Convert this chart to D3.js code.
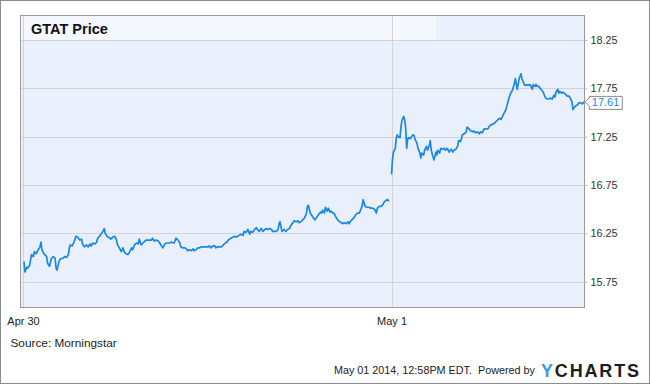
<!DOCTYPE html>
<html>
<head>
<meta charset="utf-8">
<script src="https://cdn.jsdelivr.net/npm/d3@7"></script>
<style>
  body { margin: 0; background: #fff; }
  svg { display: block; font-family: 'Liberation Sans', Arial, sans-serif; }
</style>
</head>
<body>
<svg id="chart" width="650" height="384"></svg>
<script>
const title = 'GTAT Price'
const source = 'Source: Morningstar'
const stamp = 'May 01 2014, 12:58PM EDT.  Powered by'

// minutes since the open, price
const apr30 = [
  [1, 15.96], [2, 15.85], [4, 15.90], [5, 15.89], [7, 15.92], [9, 16.03], [11, 16.01], [12, 16.06],
  [14, 16.04], [16, 16.08], [18, 16.11], [19, 16.16], [20, 16.08], [22, 16.04], [25, 16.01], [26, 15.94],
  [28, 15.91], [30, 15.99], [32, 16.01], [34, 15.99], [35, 15.89], [36, 15.87], [38, 15.96], [40, 15.99],
  [42, 15.99], [44, 16.01], [46, 16.00], [48, 16.03], [49, 16.10], [50, 16.13], [52, 16.12], [54, 16.16],
  [56, 16.22], [58, 16.21], [60, 16.18], [62, 16.19], [63, 16.14], [65, 16.11], [67, 16.13], [69, 16.11],
  [71, 16.14], [72, 16.12], [74, 16.15], [76, 16.14], [78, 16.16], [79, 16.20], [81, 16.22], [83, 16.25],
  [85, 16.28], [86, 16.30], [87, 16.25], [89, 16.22], [92, 16.20], [93, 16.19], [95, 16.21], [97, 16.22],
  [99, 16.18], [100, 16.13], [102, 16.10], [104, 16.06], [106, 16.10], [107, 16.06], [109, 16.04], [111, 16.03],
  [113, 16.06], [115, 16.10], [116, 16.08], [118, 16.13], [120, 16.15], [122, 16.14], [123, 16.19], [125, 16.13],
  [127, 16.15], [129, 16.17], [130, 16.18], [132, 16.18], [134, 16.18], [136, 16.18], [137, 16.20], [139, 16.17],
  [141, 16.18], [143, 16.17], [144, 16.16], [146, 16.13], [148, 16.10], [150, 16.14], [152, 16.15], [153, 16.15],
  [155, 16.15], [157, 16.16], [159, 16.15], [160, 16.15], [162, 16.20], [164, 16.18], [166, 16.15], [167, 16.11],
  [169, 16.10], [171, 16.10], [173, 16.09], [174, 16.07], [176, 16.08], [178, 16.07], [180, 16.09], [181, 16.07],
  [183, 16.08], [185, 16.10], [187, 16.10], [189, 16.11], [190, 16.11], [192, 16.11], [194, 16.11], [196, 16.11],
  [197, 16.12], [199, 16.10], [201, 16.12], [203, 16.12], [204, 16.10], [206, 16.11], [208, 16.11], [210, 16.11],
  [212, 16.13], [214, 16.15], [216, 16.16], [217, 16.18], [220, 16.20], [222, 16.21], [224, 16.22], [226, 16.21],
  [227, 16.22], [229, 16.23], [231, 16.24], [233, 16.23], [234, 16.27], [236, 16.26], [238, 16.29], [240, 16.24],
  [241, 16.27], [243, 16.26], [245, 16.29], [247, 16.31], [248, 16.29], [250, 16.27], [252, 16.30], [254, 16.27],
  [255, 16.28], [257, 16.30], [259, 16.29], [261, 16.30], [263, 16.29], [264, 16.27], [266, 16.27], [268, 16.27],
  [270, 16.29], [271, 16.35], [272, 16.37], [274, 16.27], [276, 16.29], [278, 16.27], [280, 16.29], [282, 16.30],
  [284, 16.34], [285, 16.35], [287, 16.38], [289, 16.37], [291, 16.38], [292, 16.36], [294, 16.37], [296, 16.39],
  [298, 16.41], [300, 16.46], [301, 16.53], [302, 16.54], [304, 16.46], [306, 16.43], [308, 16.40], [309, 16.39],
  [311, 16.42], [314, 16.46], [315, 16.47], [316, 16.46], [317, 16.49], [319, 16.46], [320, 16.52], [322, 16.48],
  [323, 16.51], [325, 16.47], [326, 16.48], [328, 16.46], [329, 16.46], [331, 16.42], [333, 16.39], [335, 16.37],
  [337, 16.36], [338, 16.35], [340, 16.36], [342, 16.35], [344, 16.37], [345, 16.35], [347, 16.38], [349, 16.40],
  [351, 16.42], [352, 16.44], [354, 16.46], [356, 16.46], [358, 16.51], [359, 16.54], [360, 16.60], [362, 16.53],
  [364, 16.52], [366, 16.52], [368, 16.51], [370, 16.51], [372, 16.50], [374, 16.46], [375, 16.51], [377, 16.53],
  [379, 16.53], [381, 16.55], [382, 16.57], [384, 16.59], [386, 16.60], [387, 16.58]
]

const may1 = [
  [0, 16.86], [1, 17.01], [2, 17.09], [4, 17.13], [5, 17.23], [6, 17.27], [7, 17.25], [9, 17.24],
  [10, 17.35], [11, 17.42], [13, 17.46], [14, 17.42], [15, 17.34], [16, 17.13], [17, 17.22], [18, 17.24],
  [20, 17.23], [21, 17.25], [23, 17.27], [24, 17.26], [25, 17.22], [27, 17.18], [28, 17.13], [30, 17.08],
  [31, 17.03], [32, 17.08], [34, 17.06], [35, 17.11], [37, 17.15], [38, 17.11], [40, 17.16], [41, 17.21],
  [42, 17.11], [44, 17.04], [45, 17.01], [47, 17.09], [48, 17.06], [49, 17.11], [51, 17.08], [52, 17.13],
  [54, 17.12], [56, 17.13], [57, 17.11], [59, 17.13], [61, 17.09], [63, 17.12], [65, 17.09], [66, 17.11],
  [68, 17.12], [70, 17.15], [71, 17.21], [73, 17.20], [74, 17.23], [75, 17.27], [77, 17.28], [79, 17.30],
  [80, 17.35], [82, 17.33], [84, 17.31], [86, 17.30], [87, 17.31], [89, 17.29], [91, 17.30], [93, 17.28],
  [94, 17.30], [96, 17.29], [98, 17.33], [100, 17.33], [102, 17.33], [103, 17.35], [105, 17.37], [107, 17.38],
  [109, 17.39], [110, 17.40], [112, 17.42], [114, 17.44], [116, 17.43], [117, 17.45], [119, 17.49], [121, 17.53],
  [123, 17.60], [124, 17.64], [126, 17.70], [128, 17.73], [130, 17.80], [131, 17.85], [133, 17.74], [134, 17.79],
  [135, 17.85], [137, 17.90], [138, 17.85], [140, 17.80], [141, 17.78], [142, 17.79], [144, 17.78], [146, 17.79],
  [147, 17.78], [149, 17.74], [150, 17.79], [152, 17.77], [153, 17.79], [154, 17.77], [156, 17.77], [158, 17.74],
  [160, 17.72], [161, 17.70], [163, 17.65], [165, 17.64], [167, 17.64], [168, 17.65], [170, 17.64], [172, 17.68],
  [173, 17.66], [174, 17.71], [176, 17.74], [177, 17.70], [178, 17.72], [180, 17.70], [181, 17.71], [183, 17.70],
  [184, 17.69], [186, 17.67], [188, 17.67], [190, 17.63], [191, 17.61], [192, 17.53], [194, 17.56], [195, 17.57],
  [197, 17.58], [198, 17.60], [200, 17.60], [202, 17.59], [204, 17.61]
]

const dayLength = 390
const dayStarts = [0, 390]
const dayLabels = ['Apr 30', 'May 1']
const priceTicks = [15.75, 16.25, 16.75, 17.25, 17.75, 18.25]

const W = 650, H = 384
const plot = { left: 20, right: 584, top: 15, bottom: 307 }
const blue = '#1a87e4'

const svg = d3.select('#chart')

const x = d3.scaleLinear().domain([-3.2, 593.7]).range([plot.left, plot.right])
const y = d3.scaleLinear().domain([15.488, 18.509]).range([plot.bottom, plot.top])

// outer frame
svg.append('rect')
    .attr('x', 0.5).attr('y', 0.5)
    .attr('width', W - 1).attr('height', H - 1)
    .attr('fill', '#fff').attr('stroke', '#8a8a8a')

svg.append('rect')
    .attr('x', plot.left).attr('y', plot.top)
    .attr('width', plot.right - plot.left).attr('height', plot.bottom - plot.top)
    .attr('fill', '#eaf0fb')

// lighter band behind the title
svg.append('rect')
    .attr('x', plot.left).attr('y', plot.top)
    .attr('width', 416).attr('height', y(18.25) - plot.top)
    .attr('fill', '#f4f7fd')

const grid = svg.append('g').attr('stroke', '#d3d3d3').attr('stroke-width', 1)

grid.selectAll('.hgrid').data(priceTicks).enter().append('line')
    .attr('class', 'hgrid')
    .attr('x1', plot.left).attr('x2', plot.right)
    .attr('y1', d => Math.round(y(d)) + 0.5).attr('y2', d => Math.round(y(d)) + 0.5)

grid.selectAll('.vgrid').data(dayStarts).enter().append('line')
    .attr('class', 'vgrid')
    .attr('y1', plot.top).attr('y2', plot.bottom)
    .attr('x1', d => Math.round(x(d)) + 0.5).attr('x2', d => Math.round(x(d)) + 0.5)

const line = d3.line()
    .x(d => x(d[0]))
    .y(d => y(d[1]))

const days = [apr30, may1.map(d => [d[0] + dayLength, d[1]])]

svg.selectAll('.price').data(days).enter().append('path')
    .attr('class', 'price')
    .attr('d', line)
    .attr('fill', 'none')
    .attr('stroke', blue)
    .attr('stroke-width', 1.7)
    .attr('stroke-linejoin', 'round')

// plot frame
svg.append('rect')
    .attr('x', plot.left + 0.5).attr('y', plot.top + 0.5)
    .attr('width', plot.right - plot.left).attr('height', plot.bottom - plot.top)
    .attr('fill', 'none').attr('stroke', '#9a9a9a')

svg.append('text')
    .attr('x', 31).attr('y', 34)
    .attr('font-size', '14.5px').attr('font-weight', 'bold').attr('fill', '#111')
    .text(title)

// right price axis
const yAxis = svg.append('g')
    .attr('transform', 'translate(' + (plot.right + 0.5) + ',0)')
    .call(d3.axisRight(y).tickValues(priceTicks).tickFormat(d3.format('.2f')).tickSize(3).tickPadding(3))
yAxis.select('.domain').remove()
yAxis.selectAll('.tick line').attr('stroke', '#bbb')
yAxis.selectAll('.tick text')
    .attr('fill', '#333').attr('font-size', '10.8px').attr('font-family', null)

// day labels
const xAxis = svg.append('g')
    .attr('transform', 'translate(0,' + plot.bottom + ')')
    .call(d3.axisBottom(x).tickValues(dayStarts).tickFormat((d, i) => dayLabels[i]).tickSize(0).tickPadding(10))
xAxis.select('.domain').remove()
xAxis.selectAll('.tick text')
    .attr('fill', '#222').attr('font-size', '11px').attr('font-family', null)

// last price callout
const last = days[1][days[1].length - 1]
const lx = x(last[0]), ly = y(last[1])
const callout = svg.append('g').attr('transform', 'translate(' + lx + ',' + ly + ')')
callout.append('path')
    .attr('d', 'M5,-5.5 L38,-5.5 L38,7.5 L5,7.5 L5,4 L0.5,0 L5,-4 Z')
    .attr('fill', '#fff').attr('stroke', '#8a8a8a')
callout.append('text')
    .attr('x', 7.5).attr('y', 4.5)
    .attr('font-size', '11px').attr('fill', blue)
    .text(d3.format('.2f')(last[1]))

svg.append('text')
    .attr('x', 10.5).attr('y', 347)
    .attr('font-size', '11.8px').attr('fill', '#222')
    .text(source)

svg.append('text')
    .attr('x', 535).attr('y', 374)
    .attr('text-anchor', 'end')
    .attr('font-size', '10.8px').attr('fill', '#222')
    .style('white-space', 'pre')
    .text(stamp)

const logo = svg.append('text')
    .attr('x', 541).attr('y', 377)
    .attr('font-size', '18px').attr('font-weight', 'bold')
    .attr('textLength', 98).attr('lengthAdjust', 'spacing')
logo.append('tspan').attr('fill', '#4a95e0').text('Y')
logo.append('tspan').attr('fill', '#1d1d1d').text('CHARTS')
</script>
</body>
</html>
